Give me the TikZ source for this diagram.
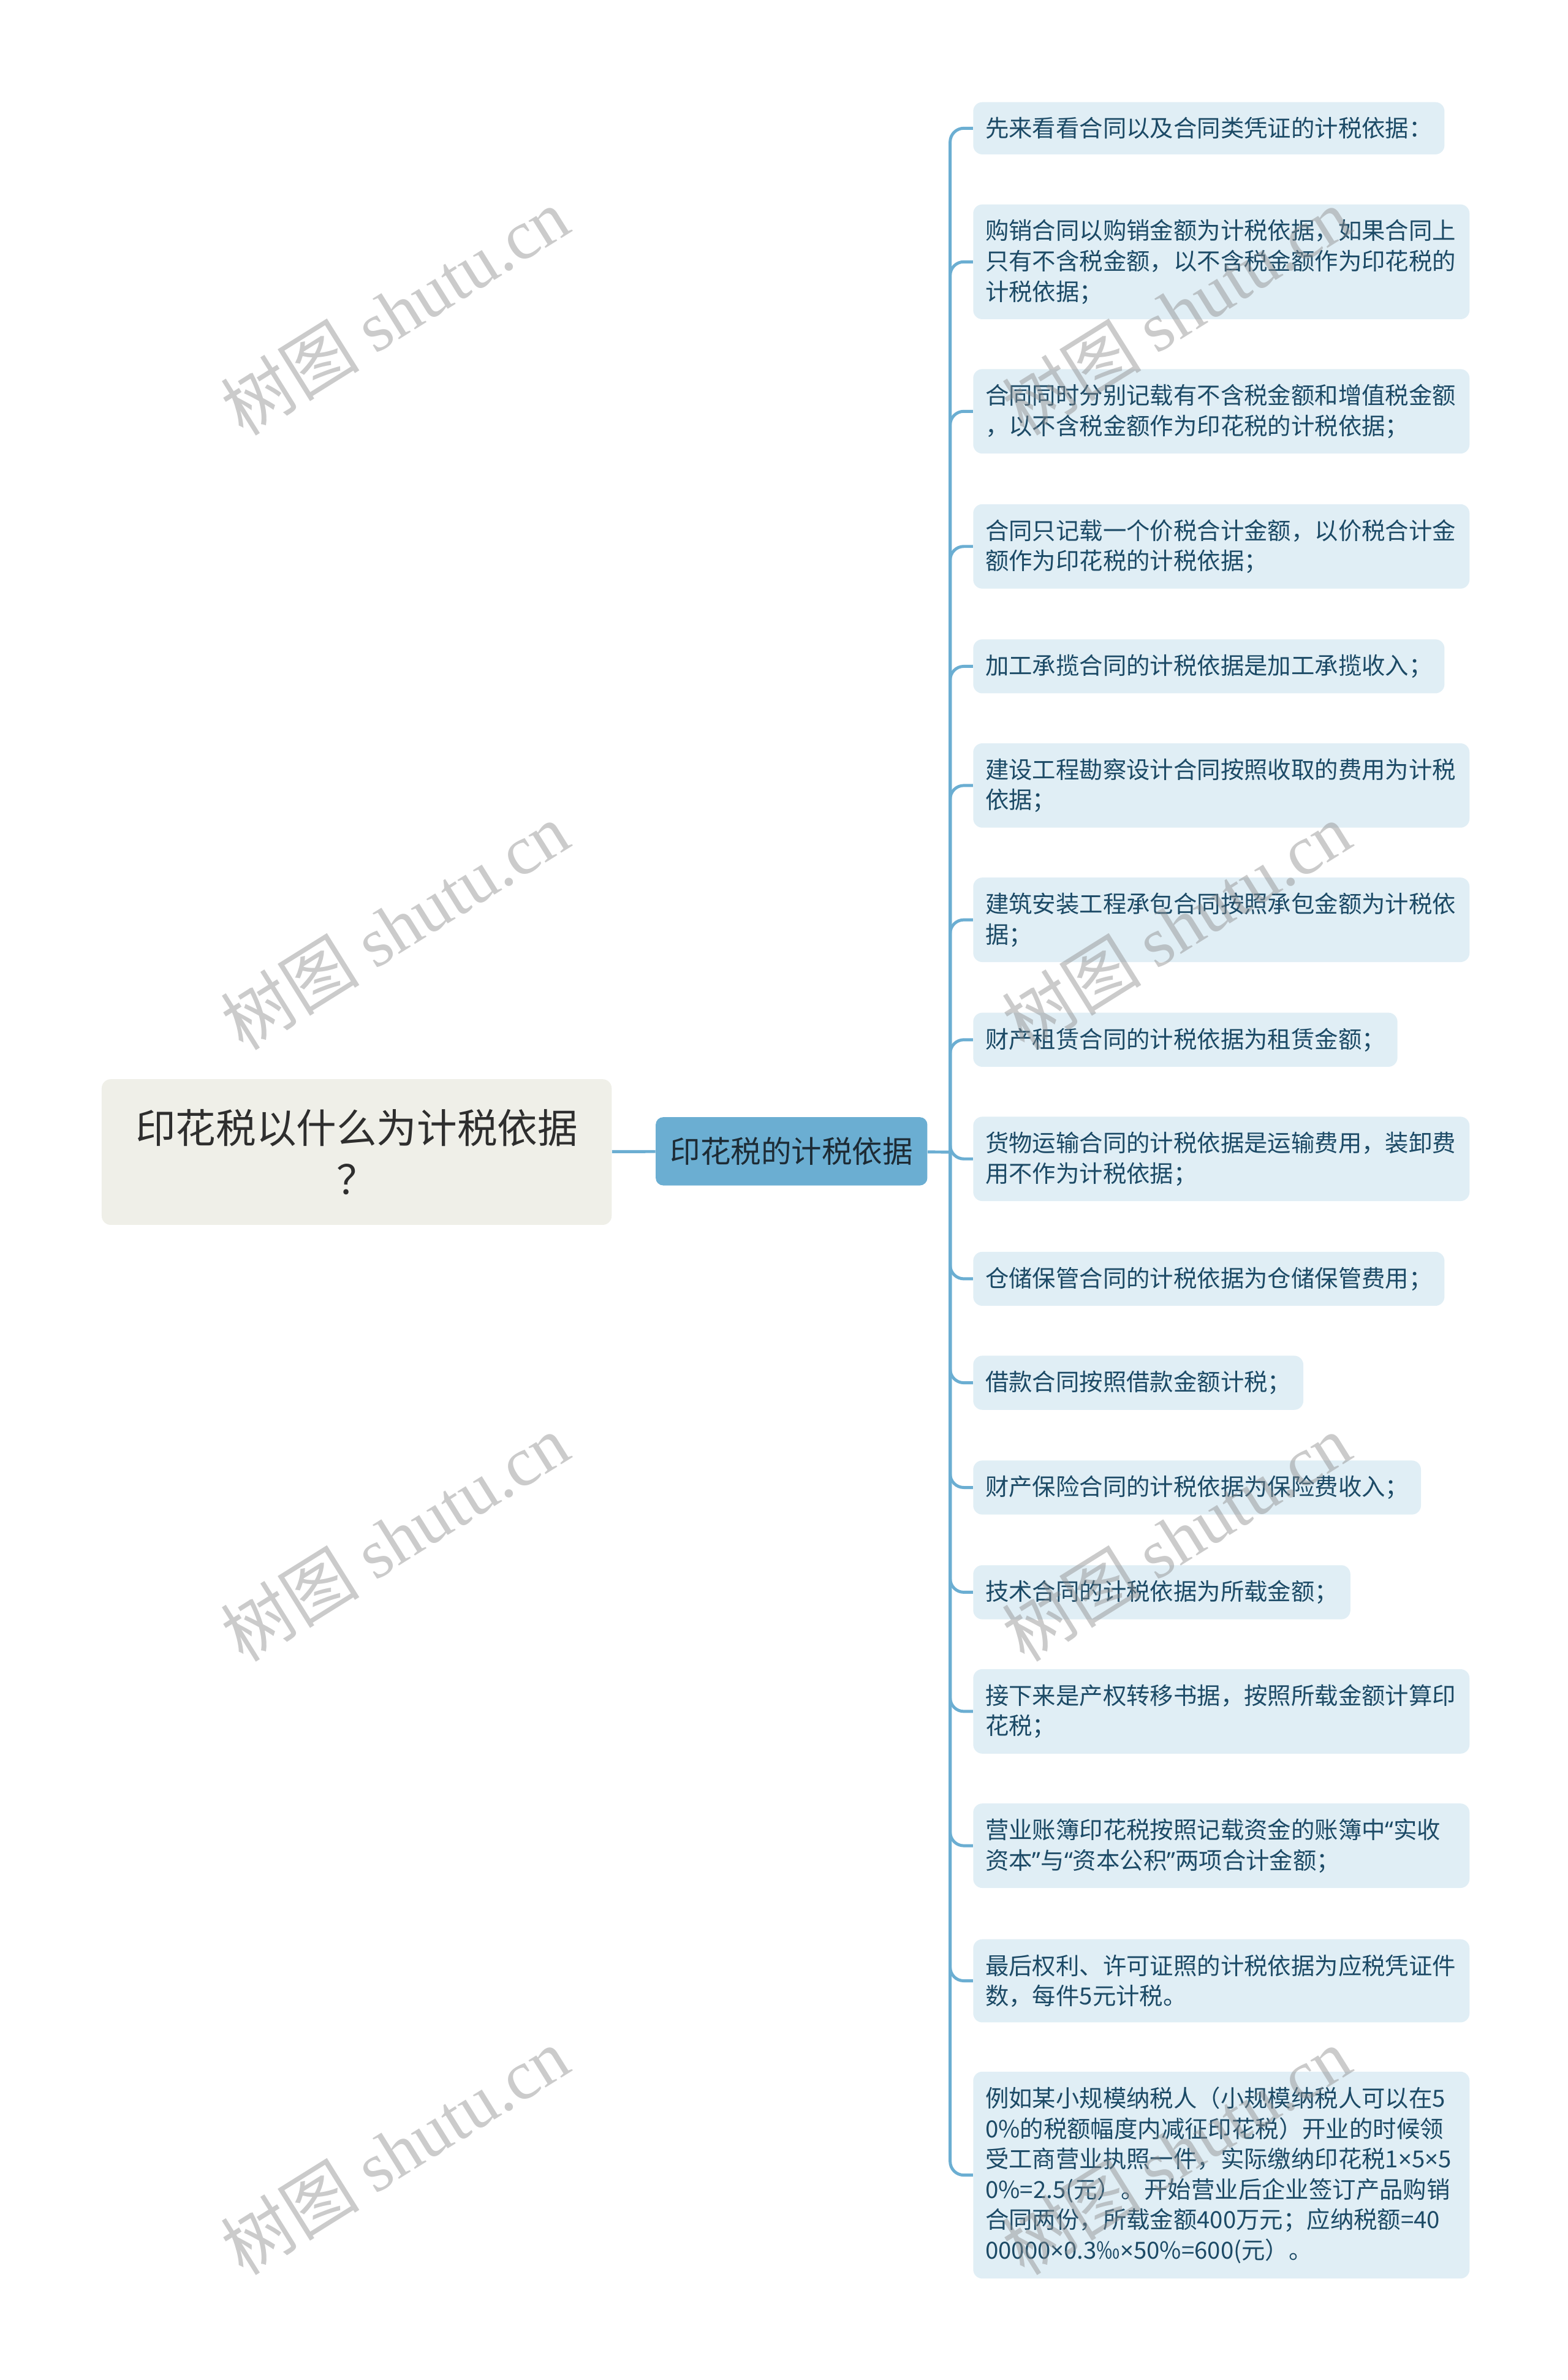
\documentclass[tikz,border=0pt]{standalone}
\usepackage{fontspec}
\setmainfont{Noto Sans CJK SC}
\newfontfamily\wmfont{Liberation Serif}
\newfontfamily\latin{Noto Sans}
\newcommand\tms{{\latin ×}}
\definecolor{rootbg}{HTML}{EFEFE8}
\definecolor{roottxt}{HTML}{2E2E2E}
\definecolor{branchbg}{HTML}{6BAED2}
\definecolor{branchtxt}{HTML}{1D2B35}
\definecolor{leafbg}{HTML}{E0EEF5}
\definecolor{leaftxt}{HTML}{1C4A66}
\definecolor{line}{HTML}{6BAED2}
\begin{document}
\begin{tikzpicture}[x=1pt, y=-1pt,
	conn/.style={draw=line, line width=2pt, rounded corners=9pt},
	root/.style={fill=rootbg, text=roottxt, rounded corners=6pt, minimum width=336pt, minimum height=96pt, align=center, font=\fontsize{26.5}{34}\selectfont},
	branch/.style={fill=branchbg, text=branchtxt, rounded corners=5pt, minimum width=179pt, minimum height=45pt, font=\fontsize{20}{24}\selectfont},
	leaf/.style={fill=leafbg, text=leaftxt, rounded corners=6pt, anchor=west, align=left, inner xsep=8pt, inner ysep=10pt, font=\fontsize{15.5}{20}\selectfont},
	wide/.style={leaf, text width=311pt},
	wm/.style={text=black!45, opacity=.45, rotate=32, font=\fontsize{46}{50}\selectfont}]
	\useasboundingbox (0, 0) rectangle (1033, 1568);

	\node[root] (root) at (235, 759) {印花税以什么为计税依据\\？};
	\node[branch] (br) at (521.5, 758.5) {印花税的计税依据};
	\coordinate (sp) at (626, 759);

	\node[leaf] (l1) at (641, 84.5) {先来看看合同以及合同类凭证的计税依据：};
	\node[wide] (l2) at (641, 172.5) {购销合同以购销金额为计税依据，如果合同上\\只有不含税金额，以不含税金额作为印花税的\\计税依据；};
	\node[wide] (l3) at (641, 271) {合同同时分别记载有不含税金额和增值税金额\\，以不含税金额作为印花税的计税依据；};
	\node[wide] (l4) at (641, 360) {合同只记载一个价税合计金额，以价税合计金\\额作为印花税的计税依据；};
	\node[leaf] (l5) at (641, 439) {加工承揽合同的计税依据是加工承揽收入；};
	\node[wide] (l6) at (641, 517.5) {建设工程勘察设计合同按照收取的费用为计税\\依据；};
	\node[wide] (l7) at (641, 606) {建筑安装工程承包合同按照承包金额为计税依\\据；};
	\node[leaf] (l8) at (641, 685) {财产租赁合同的计税依据为租赁金额；};
	\node[wide] (l9) at (641, 763.5) {货物运输合同的计税依据是运输费用，装卸费\\用不作为计税依据；};
	\node[leaf] (l10) at (641, 842.5) {仓储保管合同的计税依据为仓储保管费用；};
	\node[leaf] (l11) at (641, 911) {借款合同按照借款金额计税；};
	\node[leaf] (l12) at (641, 980) {财产保险合同的计税依据为保险费收入；};
	\node[leaf] (l13) at (641, 1049) {技术合同的计税依据为所载金额；};
	\node[wide] (l14) at (641, 1127.5) {接下来是产权转移书据，按照所载金额计算印\\花税；};
	\node[wide] (l15) at (641, 1216) {营业账簿印花税按照记载资金的账簿中{\latin “}实收\\资本{\latin ”}与{\latin “}资本公积{\latin ”}两项合计金额；};
	\node[wide] (l16) at (641, 1305) {最后权利、许可证照的计税依据为应税凭证件\\数，每件5元计税。};
	\node[wide] (l17) at (641, 1433) {例如某小规模纳税人（小规模纳税人可以在5\\0\%的税额幅度内减征印花税）开业的时候领\\受工商营业执照一件，实际缴纳印花税1\tms5\tms5\\0\%=2.5(元）。开始营业后企业签订产品购销\\合同两份，所载金额400万元；应纳税额=40\\00000\tms0.3‰\tms50\%=600(元）。};

	\draw[conn] (root) -- (br);
	\draw[conn] (br) -- (sp);
	\foreach \i in {1,...,17}
		\draw[conn] (sp) |- (l\i.west);

	% watermark
	\foreach \y in {205, 610, 1013, 1417} {
		\node[wm] at (260, \y) {树图 {\wmfont shutu.cn}};
		\node[wm] at (775, \y) {树图 {\wmfont shutu.cn}};
	}
\end{tikzpicture}
\end{document}
